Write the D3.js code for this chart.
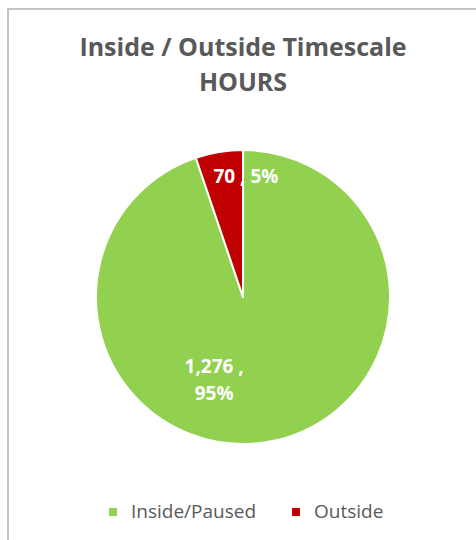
<!DOCTYPE html>
<html>
<head>
<meta charset="utf-8">
<script src="https://cdn.jsdelivr.net/npm/d3@7"></script>
<style>
  html, body { margin: 0; padding: 0; background: #fff; }
  svg { display: block; }
</style>
</head>
<body>
<svg id="chart" width="476" height="540"></svg>
<script>
// ---- data ----
const categories = ["Inside/Paused", "Outside"];
const hours = [1276, 70];
const percentLabels = ["95%", "5%"];
const valueLabels = ["1,276", "70"];
const titleLines = ["Inside / Outside Timescale", "HOURS"];
const colors = ["#92D050", "#C00000"];

const svg = d3.select("#chart");

// frame (cut off on right & bottom like the reference)
svg.append("rect")
  .attr("x", 8).attr("y", 9)
  .attr("width", 480).attr("height", 540)
  .attr("fill", "#fff")
  .attr("stroke", "#c4c4c4")
  .attr("stroke-width", 2);

const font = "'Open Sans', Lato, sans-serif";

// title
svg.append("g").selectAll("text")
  .data(titleLines)
  .join("text")
  .attr("x", 243)
  .attr("y", (d, i) => 56 + i * 35)
  .attr("text-anchor", "middle")
  .attr("font-family", font)
  .attr("font-weight", "bold")
  .attr("font-size", 25)
  .attr("fill", "#595959")
  .text(d => d);

// pie
const cx = 243, cy = 297, R = 147;
const data = categories.map((c, i) => ({ cat: c, value: hours[i], pct: percentLabels[i], val: valueLabels[i], color: colors[i] }));
const pie = d3.pie().sort(null).value(d => d.value);
const arcs = pie(data);
const arc = d3.arc().innerRadius(0).outerRadius(R);

const g = svg.append("g").attr("transform", `translate(${cx},${cy})`);
g.selectAll("path")
  .data(arcs)
  .join("path")
  .attr("d", arc)
  .attr("fill", d => d.data.color)
  .attr("stroke", "#fff")
  .attr("stroke-width", 2)
  .attr("stroke-linejoin", "round");

// labels
const labelR = [0.55, 0.8];
const nudge = [[-42, 0], [22, 2]];
arcs.forEach((a, i) => {
  const mid = (a.startAngle + a.endAngle) / 2;
  const p = d3.pointRadial(mid, R * labelR[i]);
  const x = p[0] + nudge[i][0], y = p[1] + nudge[i][1];
  const t = g.append("text")
    .attr("text-anchor", "middle")
    .attr("font-family", font)
    .attr("font-weight", "bold")
    .attr("font-size", 19)
    .attr("fill", "#ffffff");
  if (i === 0) {
    t.append("tspan").attr("x", x).attr("y", y - 4).text(a.data.val + " ,");
    t.append("tspan").attr("x", x).attr("y", y + 23).text(a.data.pct);
  } else {
    t.attr("x", x).attr("y", y).text(a.data.val + " , " + a.data.pct);
  }
});

// legend
const legend = svg.append("g").attr("transform", "translate(0,512)");
const legX = [109, 292];
const items = legend.selectAll("g")
  .data(data)
  .join("g")
  .attr("transform", (d, i) => `translate(${legX[i]},0)`);
items.append("rect")
  .attr("x", 0).attr("y", -4)
  .attr("width", 8).attr("height", 8)
  .attr("fill", d => d.color);
items.append("text")
  .attr("x", 22).attr("y", 6)
  .attr("font-family", font)
  .attr("font-size", 19)
  .attr("fill", "#595959")
  .text(d => d.cat);
</script>
</body>
</html>
